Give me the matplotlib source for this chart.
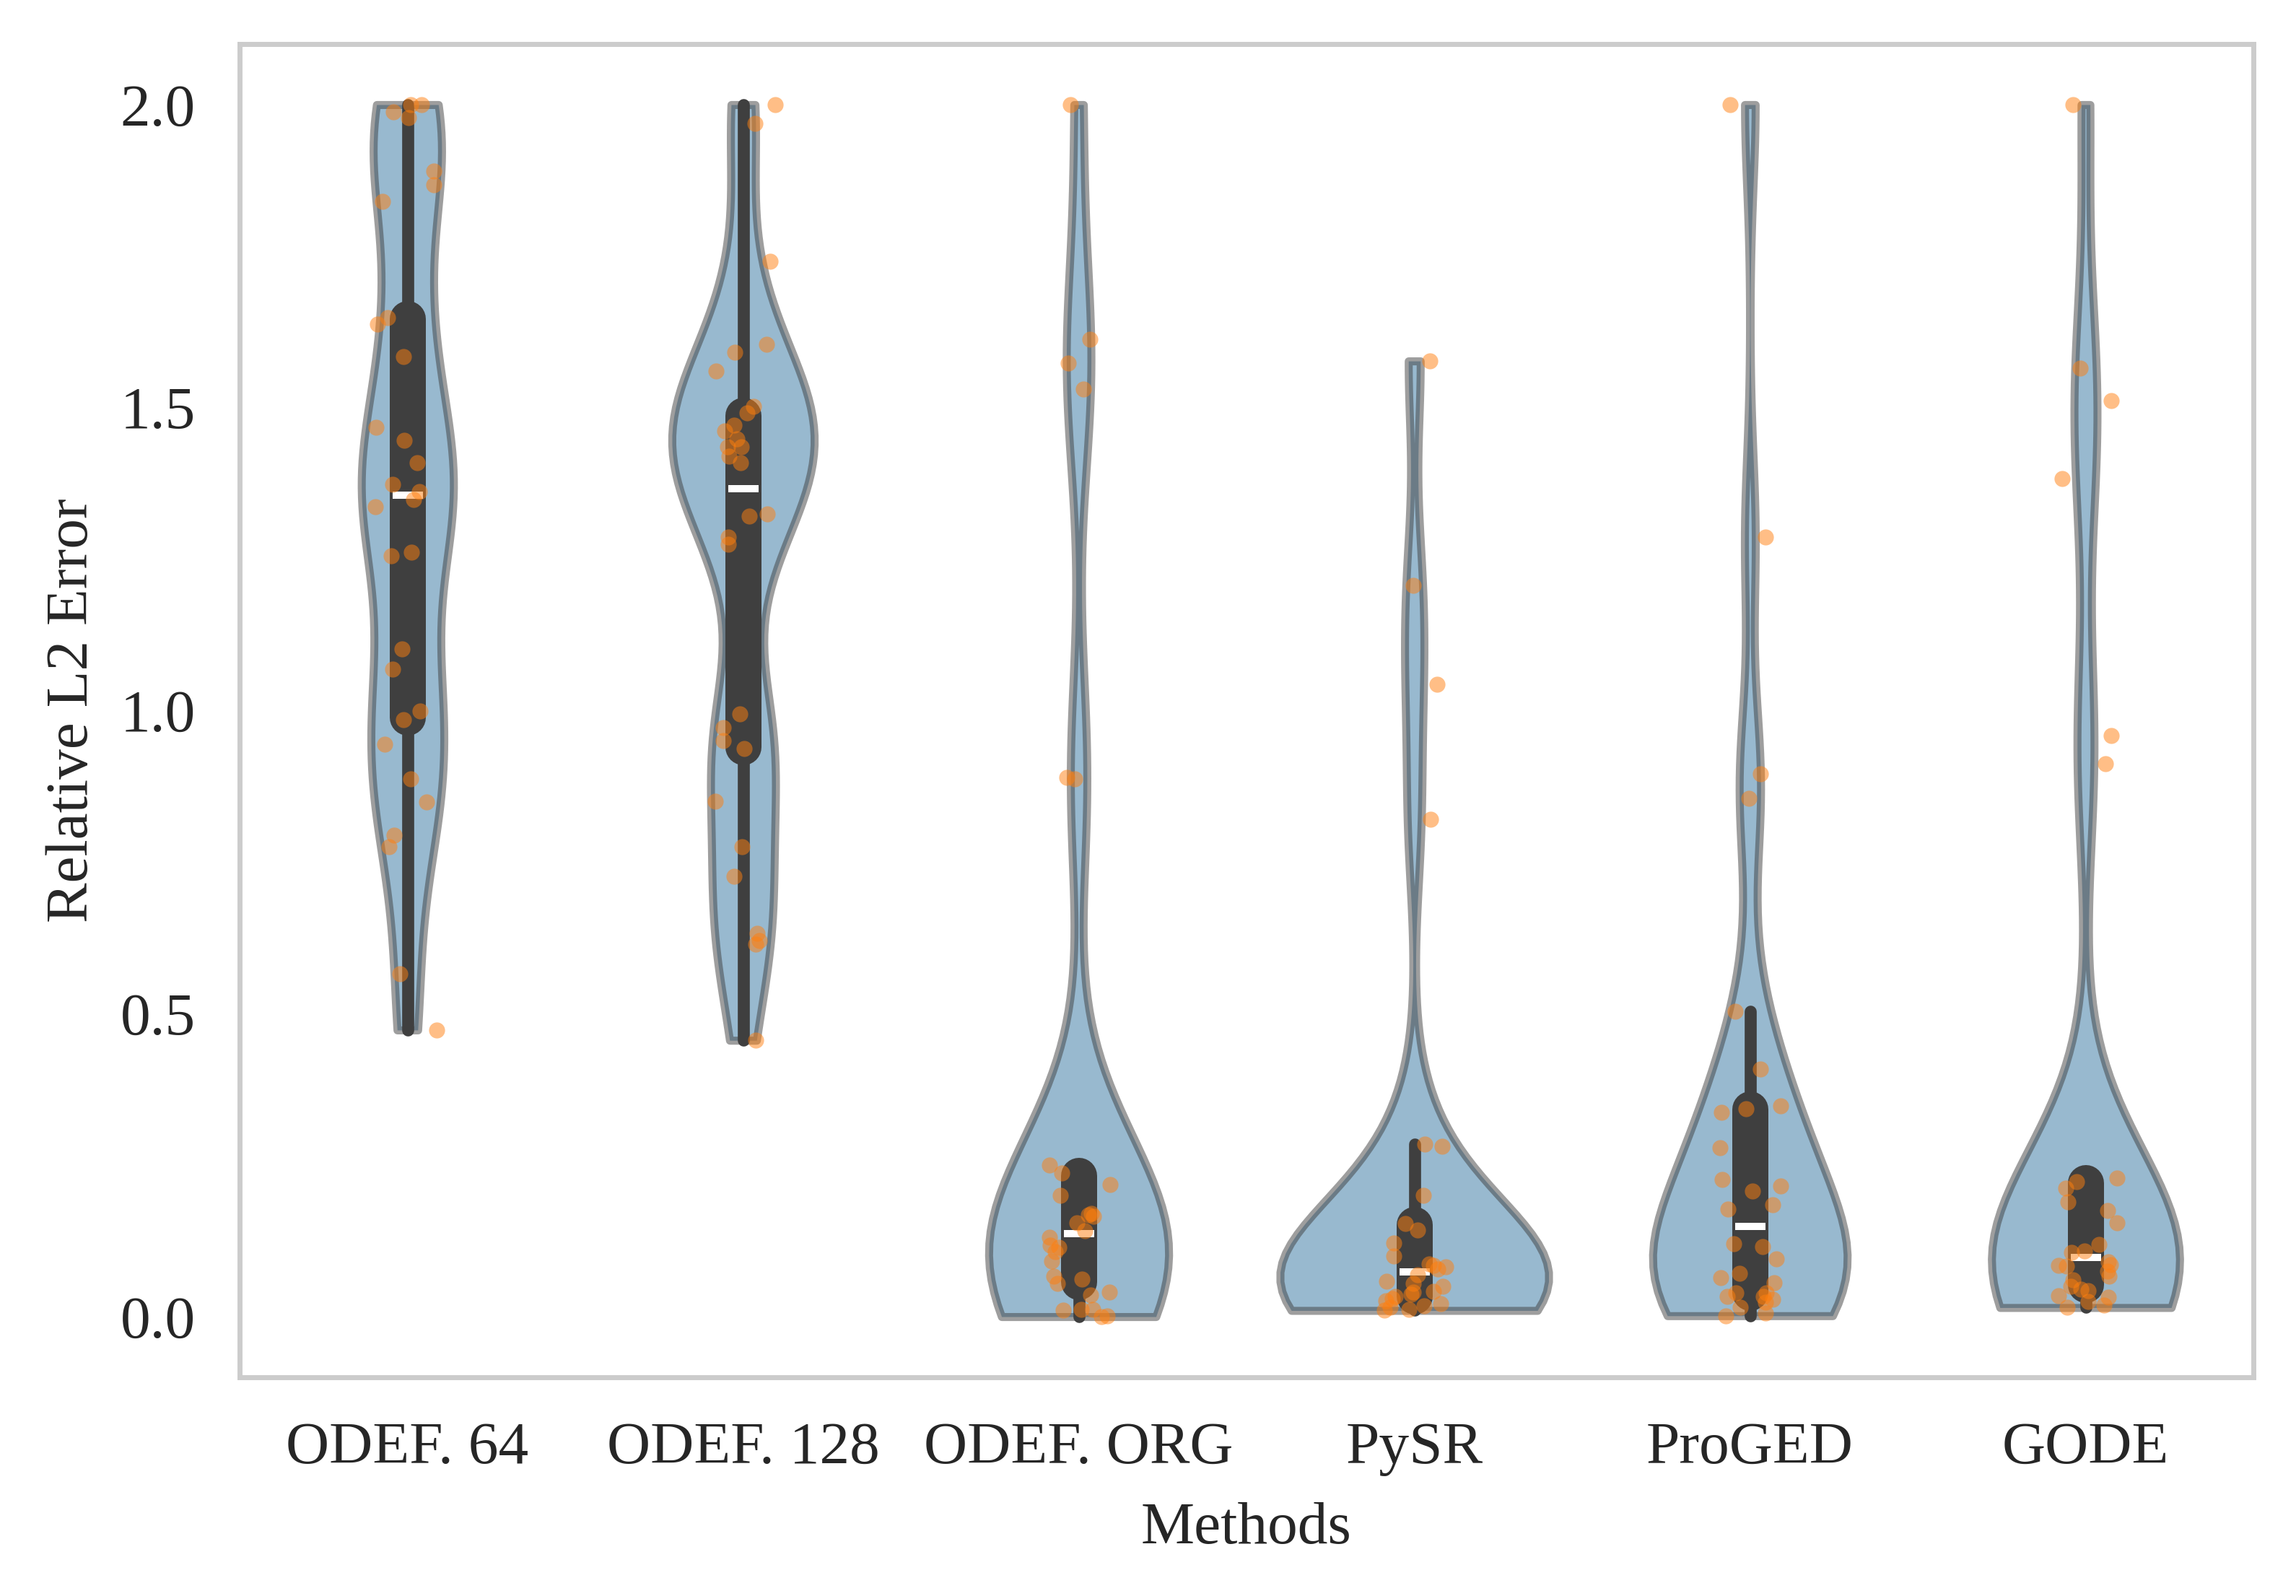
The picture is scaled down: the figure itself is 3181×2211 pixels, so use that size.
import numpy as np
import pandas as pd
import matplotlib
matplotlib.use("Agg")
import matplotlib.pyplot as plt
import seaborn as sns

methods = ["ODEF. 64", "ODEF. 128", "ODEF. ORG", "PySR", "ProGED", "GODE"]

odef64 = [2.0, 2.0, 1.988, 1.978, 1.890, 1.868, 1.840, 1.649, 1.638, 1.584,
          1.468, 1.446, 1.409, 1.373, 1.362, 1.348, 1.336, 1.261, 1.255, 1.102,
          1.068, 0.999, 0.985, 0.945, 0.888, 0.849, 0.795, 0.775, 0.566, 0.473]
odef128 = [2.0, 1.969, 1.741, 1.604, 1.591, 1.560, 1.502, 1.491, 1.471, 1.461,
           1.448, 1.435, 1.435, 1.420, 1.409, 1.324, 1.321, 1.287, 1.274, 0.995,
           0.972, 0.950, 0.937, 0.850, 0.776, 0.727, 0.633, 0.621, 0.615, 0.456]
odef_org = [2.0, 1.613, 1.573, 1.531, 0.890, 0.888, 0.2505, 0.237, 0.218, 0.200,
            0.170, 0.168, 0.166, 0.155, 0.142, 0.131, 0.118, 0.114, 0.107, 0.092,
            0.067, 0.062, 0.055, 0.040, 0.036, 0.0125, 0.0125, 0.011, 0.0015, 0.0]
pysr = [1.577, 1.207, 1.044, 0.821, 0.285, 0.2816, 0.200, 0.154, 0.1434, 0.122,
        0.100, 0.087, 0.085, 0.0825, 0.079, 0.0688, 0.059, 0.055, 0.0498, 0.042,
        0.040, 0.0368, 0.033, 0.0296, 0.026, 0.0209, 0.018, 0.0155, 0.0123, 0.0102]
proged = [2.0, 1.286, 0.896, 0.855, 0.5035, 0.409, 0.3476, 0.3434, 0.3367, 0.279,
          0.226, 0.216, 0.207, 0.185, 0.178, 0.1206, 0.115, 0.0959, 0.0713, 0.0645,
          0.0563, 0.0398, 0.0398, 0.033, 0.033, 0.029, 0.0235, 0.015, 0.0057, 0.0015]
gode = [2.0, 1.565, 1.512, 1.383, 0.959, 0.9125, 0.2286, 0.2231, 0.2122, 0.190,
        0.175, 0.155, 0.119, 0.108, 0.1055, 0.090, 0.0863, 0.085, 0.0836, 0.075,
        0.067, 0.0604, 0.050, 0.0453, 0.0426, 0.0344, 0.0317, 0.025, 0.0193, 0.015]

series = [odef64, odef128, odef_org, pysr, proged, gode]

rows = []
for m, vals in zip(methods, series):
    for v in vals:
        rows.append((m, v))
df = pd.DataFrame(rows, columns=["Methods", "Relative L2 Error"])

sns.set_style("whitegrid")
plt.rcParams["font.family"] = ["Liberation Serif", "DejaVu Serif"]
plt.rcParams["axes.grid"] = False

fig = plt.figure(figsize=(3181 / 400, 2211 / 400), dpi=400)
ax = fig.add_axes([332 / 3181, 1 - 1908 / 2211, (3122 - 332) / 3181, (1908 - 61) / 2211])

sns.violinplot(data=df, x="Methods", y="Relative L2 Error", order=methods,
               color="#1f77b4", cut=0, inner="box", alpha=0.5, linewidth=2,
               bw_adjust=0.6, ax=ax)
np.random.seed(3)
sns.stripplot(data=df, x="Methods", y="Relative L2 Error", order=methods,
              color="#ff7f0e", alpha=0.5, size=4, jitter=True, ax=ax)

ax.grid(False)
ax.set_yticks([0.0, 0.5, 1.0, 1.5, 2.0])
ax.tick_params(axis="both", labelsize=15, length=0, pad=11)
ax.set_xlabel("Methods", fontsize=15, labelpad=6.5)
ax.set_ylabel("Relative L2 Error", fontsize=15, labelpad=5)
for s in ax.spines.values():
    s.set_color("#cccccc")
    s.set_linewidth(1.25)

fig.savefig("out.png", dpi=400)
